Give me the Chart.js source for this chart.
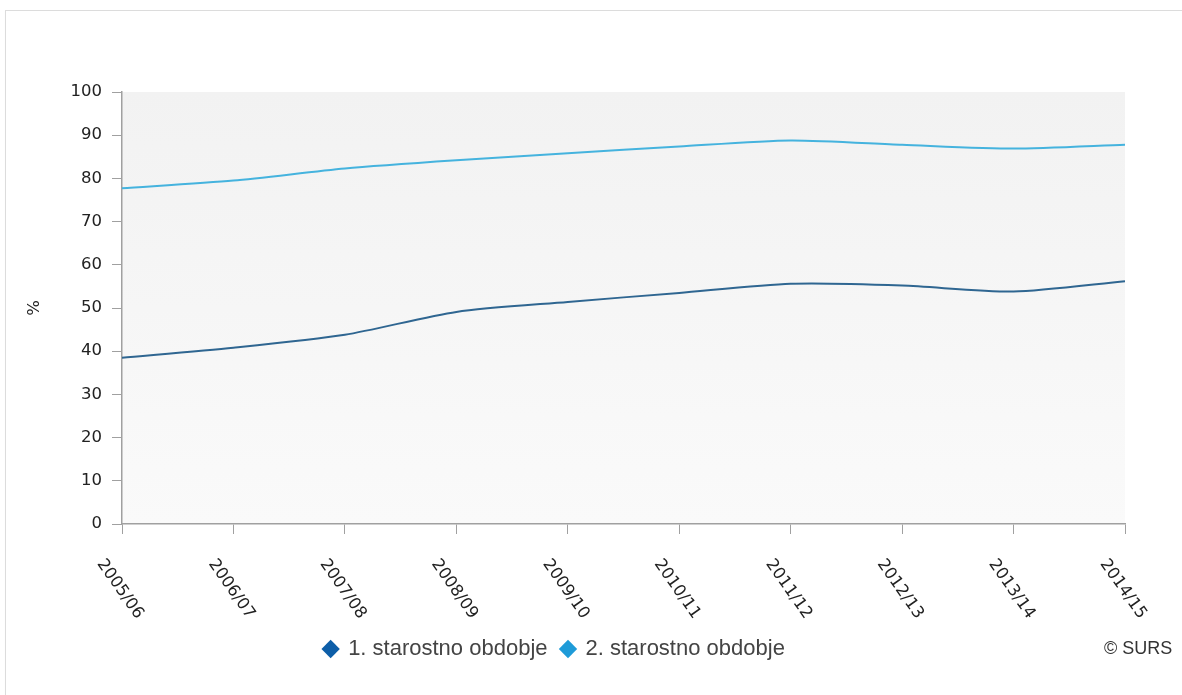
<!DOCTYPE html>
<html lang="sl">
<head>
  <meta charset="UTF-8">
  <title>Starostno obdobje</title>
  <script src="https://cdn.jsdelivr.net/npm/chart.js"></script>
  <style>
    body { margin: 0; background: #fff; }
    #frame { position: absolute; left: 5px; top: 10px; width: 1200px; height: 700px;
      border: 1px solid #dcdcdc; box-shadow: 0 1px 1px rgba(0,0,0,0.04); }
    #wrap { position: absolute; left: 0; top: 0; width: 1182px; height: 695px; }
    #surs { position: absolute; left: 1104px; top: 638px; font: 18px "Liberation Sans", Arial, sans-serif; color: #333; }
  </style>
</head>
<body>
<div id="frame"></div>
<div id="wrap"><canvas id="chart" width="1182" height="695"></canvas></div>
<div id="surs">&copy; SURS</div>
<script>
// school years
let years = ["2005/06", "2006/07", "2007/08", "2008/09", "2009/10", "2010/11", "2011/12", "2012/13", "2013/14", "2014/15"]
let obdobje1 = [38.5, 40.8, 43.8, 49.1, 51.4, 53.5, 55.6, 55.2, 53.8, 56.2]
let obdobje2 = [77.7, 79.5, 82.3, 84.2, 85.8, 87.4, 88.8, 87.8, 86.9, 87.8]
let seriesNames = ["1. starostno obdobje", "2. starostno obdobje"]
let yTicks = [0, 10, 20, 30, 40, 50, 60, 70, 80, 90, 100]

let legendColors = ["#0d5ea8", "#1e9bd8"]
let lineColors = ["#2f6691", "#45b3de"]

const tickFont = { family: "'DejaVu Sans', Verdana, sans-serif", size: 16.5 }

// grey plot background
const plotBg = {
  id: "plotBg",
  beforeDraw(chart) {
    const a = chart.chartArea, ctx = chart.ctx
    const g = ctx.createLinearGradient(0, a.top, 0, a.bottom)
    g.addColorStop(0, "#f2f2f2")
    g.addColorStop(1, "#fafafa")
    ctx.save()
    ctx.fillStyle = g
    ctx.fillRect(a.left, a.top, a.right - a.left, a.bottom - a.top)
    ctx.restore()
  }
}

// x labels rotated clockwise, like the original
const slantLabels = {
  id: "slantLabels",
  afterDraw(chart) {
    const x = chart.scales.x, ctx = chart.ctx
    ctx.save()
    ctx.font = tickFont.size + "px " + tickFont.family
    ctx.fillStyle = "#222"
    ctx.textAlign = "center"
    ctx.textBaseline = "middle"
    chart.data.labels.forEach(function (lab, i) {
      ctx.save()
      ctx.translate(x.getPixelForTick(i) - 2, x.top + 65)
      ctx.rotate(55 * Math.PI / 180)
      ctx.fillText(lab, 0, 0)
      ctx.restore()
    })
    ctx.restore()
  }
}

// nudge the legend left a bit
const legendShift = {
  id: "legendShift",
  afterLayout(chart) {
    chart.legend.left -= 18
    chart.legend.right -= 18
  }
}

new Chart(document.getElementById("chart"), {
  type: "line",
  data: {
    labels: years,
    datasets: [
      { label: seriesNames[0], data: obdobje1, borderColor: lineColors[0], backgroundColor: legendColors[0],
        borderWidth: 2, pointRadius: 0, tension: 0.25 },
      { label: seriesNames[1], data: obdobje2, borderColor: lineColors[1], backgroundColor: legendColors[1],
        borderWidth: 2, pointRadius: 0, tension: 0.25 },
    ],
  },
  plugins: [plotBg, slantLabels, legendShift],
  options: {
    responsive: false,
    animation: false,
    layout: { padding: { left: 20, right: 57, top: 92, bottom: 25 } },
    plugins: {
      tooltip: { enabled: false },
      legend: {
        position: "bottom",
        labels: {
          usePointStyle: true,
          boxWidth: 13,
          boxHeight: 13,
          padding: 14,
          color: "#444",
          font: { family: "'Liberation Sans', Arial, sans-serif", size: 22 },
          generateLabels: function (chart) {
            return seriesNames.map(function (name, i) {
              return { text: name, fillStyle: legendColors[i], strokeStyle: legendColors[i], lineWidth: 0,
                pointStyle: "rectRot", datasetIndex: i, fontColor: "#444" }
            })
          },
        },
      },
    },
    scales: {
      x: {
        offset: false,
        grid: { drawOnChartArea: false, tickLength: 10, color: "#a0a0a0" },
        border: { color: "#a0a0a0", width: 1.5 },
        ticks: { display: false },
        afterFit: function (s) { s.height = 100 },
      },
      y: {
        min: 0,
        max: 100,
        afterBuildTicks: function (s) { s.ticks = yTicks.map(function (v) { return { value: v } }) },
        grid: { drawOnChartArea: false, tickLength: 10, color: "#a0a0a0" },
        border: { color: "#a0a0a0", width: 1.5 },
        ticks: { padding: 10, color: "#222", font: tickFont },
        title: { display: true, text: "%", color: "#222", font: tickFont, padding: { top: 5, bottom: 0 } },
        afterFit: function (s) { s.width = 102 },
      },
    },
  },
});
</script>
</body>
</html>
